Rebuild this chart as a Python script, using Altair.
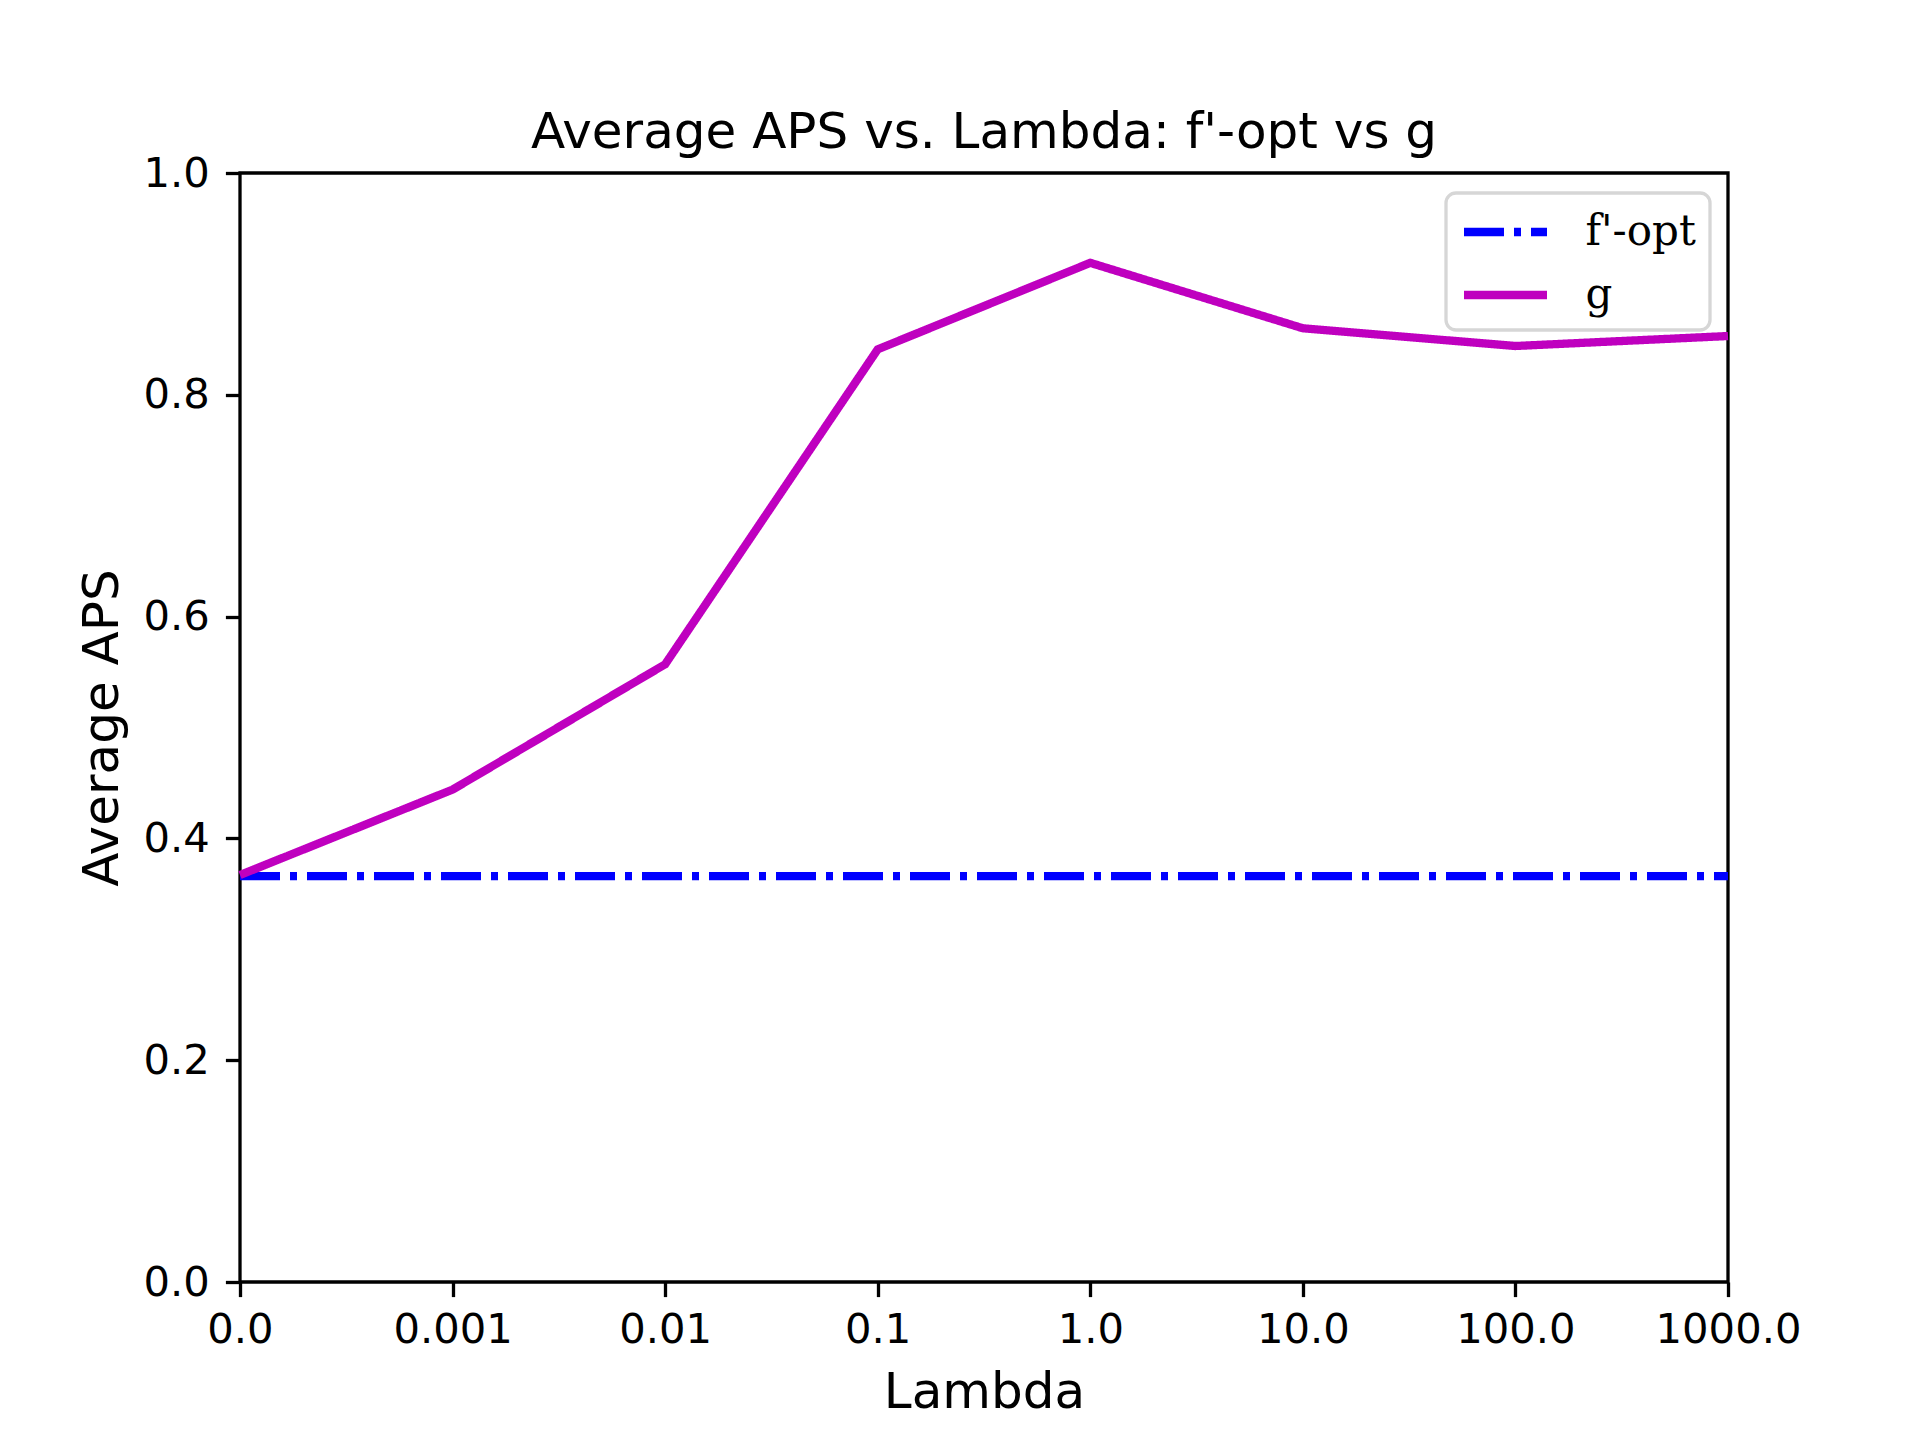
import altair as alt
import pandas as pd

lambdas = ["0.0", "0.001", "0.01", "0.1", "1.0", "10.0", "100.0", "1000.0"]
g_values = [0.367, 0.444, 0.557, 0.841, 0.919, 0.860, 0.844, 0.853]
fopt_values = [0.366, 0.366, 0.366, 0.366, 0.366, 0.366, 0.366, 0.366]
series_names = ["f'-opt", "g"]
series_colors = ["#0000ff", "#bf00bf"]
y_ticks = [0.0, 0.2, 0.4, 0.6, 0.8, 1.0]

rows = []
for name, vals in zip(series_names, [fopt_values, g_values]):
    for i, (lam, v) in enumerate(zip(lambdas, vals)):
        rows.append({"lambda": lam, "value": v, "series": name, "order": i})
df = pd.DataFrame(rows)

font = "DejaVu Sans"

chart = alt.Chart(df).mark_line(strokeWidth=8.3, strokeCap="butt").encode(
    x=alt.X("lambda:N", sort=lambdas,
            scale=alt.Scale(type="point", padding=0),
            axis=alt.Axis(title="Lambda", labelAngle=0, titleBaseline="alphabetic",
                          titleY=125, labelPadding=13)),
    y=alt.Y("value:Q", scale=alt.Scale(domain=[0, 1], nice=False),
            axis=alt.Axis(title="Average APS", values=y_ticks, format=".1f",
                          titleBaseline="alphabetic", titleX=-123, labelPadding=16)),
    color=alt.Color("series:N",
                    scale=alt.Scale(domain=series_names, range=series_colors),
                    legend=alt.Legend(title=None)),
    strokeDash=alt.StrokeDash("series:N",
                              scale=alt.Scale(domain=series_names, range=[[40, 10, 7, 10], [1, 0]]),
                              legend=alt.Legend(title=None)),
    order="order:Q",
).properties(
    width=1488,
    height=1109,
    background="white",
    title=alt.Title("Average APS vs. Lambda: f'-opt vs g", font=font, fontSize=50,
                    fontWeight="normal", color="black", anchor="middle", frame="group",
                    baseline="alphabetic", offset=25, dy=70),
    padding={"left": 232, "top": 165, "right": 184, "bottom": 150},
    autosize=alt.AutoSizeParams(type="none"),
).configure_view(
    stroke="black", strokeWidth=3.3
).configure_axis(
    grid=False, domain=False,
    labelFont=font, labelFontSize=41.7, labelColor="black",
    titleFont=font, titleFontSize=50, titleFontWeight="normal", titleColor="black",
    tickColor="black", tickWidth=3.3, tickSize=14.6,
).configure_legend(
    orient="none", legendX=1206, legendY=20,
    fillColor="rgba(255,255,255,0.8)", strokeColor="#d6d6d6", strokeWidth=3.3,
    cornerRadius=10, padding=14,
    labelFont="DejaVu Serif", labelFontSize=42, labelColor="black",
    symbolType="M-2,0H2", symbolSize=1722, symbolStrokeWidth=8.3,
    symbolOffset=20.5, labelOffset=55, rowPadding=17,
)

chart.save("out.html", embed_options={"renderer": "svg", "actions": False})
